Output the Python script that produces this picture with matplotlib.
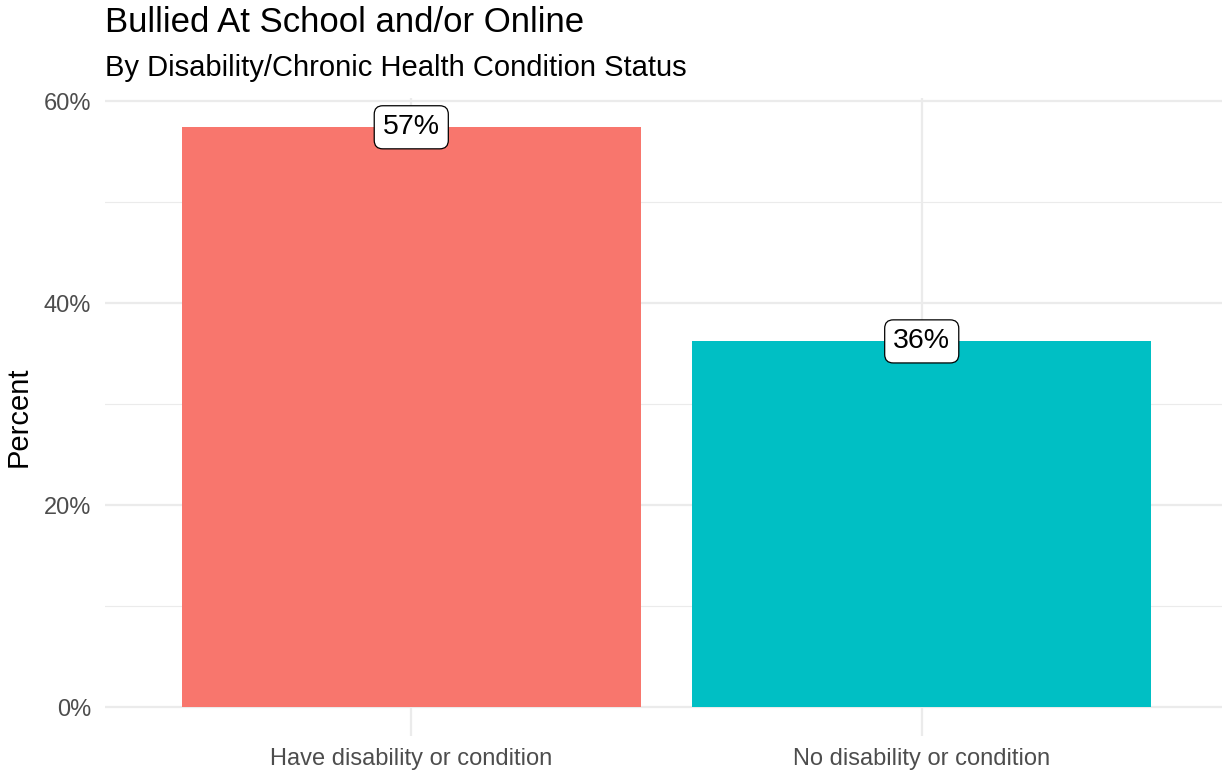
import matplotlib
matplotlib.use("Agg")
import matplotlib.pyplot as plt
from matplotlib.ticker import MultipleLocator, FuncFormatter

plt.rcParams.update({
    "font.family": ["Liberation Sans", "DejaVu Sans"],
})

categories = ["Have disability or condition", "No disability or condition"]
percents = [57.4, 36.2]
labels = ["57%", "36%"]
colors = ["#F8766D", "#00BFC4"]

W, H = 1222, 774
fig = plt.figure(figsize=(W / 100, H / 100), dpi=100)
ax = fig.add_axes([105 / W, (H - 736) / H, (1228 - 105) / W, (736 - 98) / H])

x = list(range(1, len(categories) + 1))
ax.bar(x, percents, width=0.9, color=colors, zorder=2)
for xi, p, lab in zip(x, percents, labels):
    ax.text(xi, p, lab, ha="center", va="center", fontsize=20.5, color="black",
            zorder=3,
            bbox=dict(boxstyle="round,pad=0.3,rounding_size=0.3",
                      fc="white", ec="black", lw=0.9))

ax.set_xlim(0.4, 2.6)
ax.set_ylim(-2.87, 60.3)
ax.set_xticks(x)
ax.set_xticklabels(categories)
ax.yaxis.set_major_locator(MultipleLocator(20))
ax.yaxis.set_minor_locator(MultipleLocator(10))
ax.yaxis.set_major_formatter(FuncFormatter(lambda v, _: f"{v:.0f}%"))

ax.grid(True, which="major", color="#EBEBEB", lw=1.6, zorder=0)
ax.grid(True, which="minor", axis="y", color="#EBEBEB", lw=0.8, zorder=0)
ax.set_axisbelow(True)
for s in ax.spines.values():
    s.set_visible(False)
ax.tick_params(which="both", length=0, labelsize=17, labelcolor="#4D4D4D")
ax.tick_params(axis="y", pad=10)
ax.tick_params(axis="x", pad=9)

ax.set_ylabel("Percent", fontsize=21, labelpad=8)

fig.text(105 / W, 1 - 22 / H, "Bullied At School and/or Online",
         fontsize=25, va="center", ha="left")
fig.text(105 / W, 1 - 68 / H, "By Disability/Chronic Health Condition Status",
         fontsize=21, va="center", ha="left")

fig.savefig("out.png", dpi=100)
